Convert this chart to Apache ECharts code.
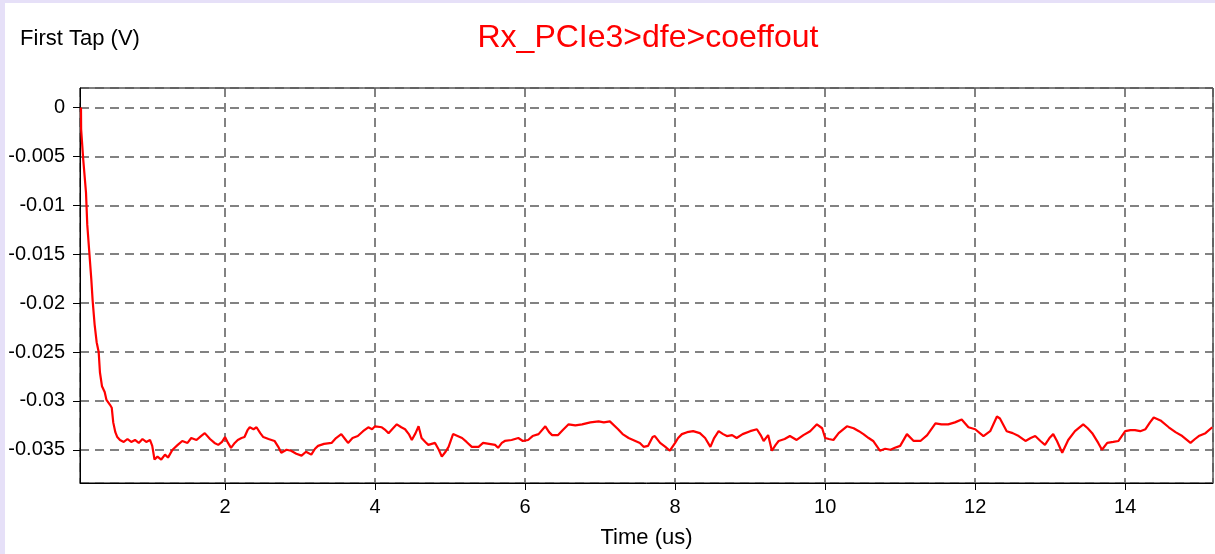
<!DOCTYPE html>
<html>
<head>
<meta charset="utf-8">
<script src="https://cdn.jsdelivr.net/npm/echarts@6/dist/echarts.min.js"></script>
<style>
html,body{margin:0;padding:0;width:1215px;height:554px;background:#E6E0F8;overflow:hidden;}
#chart{position:absolute;left:5px;top:3px;width:1210px;height:551px;background:#fff;}
</style>
</head>
<body>
<div id="chart"></div>
<script>
const titleText = "Rx_PCIe3>dfe>coeffout";
const yName = "First Tap (V)";
const xName = "Time (us)";
const timeUs = [0.08,0.082,0.11,0.147,0.164,0.19,0.218,0.236,0.262,0.289,0.316,0.333,0.36,0.396,0.42,0.467,0.49,0.51,0.538,0.564,0.6,0.65,0.7,0.75,0.8,0.85,0.9,0.95,1.0,1.03,1.06,1.1,1.15,1.2,1.24,1.3,1.37,1.43,1.5,1.55,1.62,1.68,1.73,1.8,1.86,1.91,1.96,2.0,2.04,2.08,2.13,2.17,2.22,2.26,2.3,2.33,2.38,2.42,2.47,2.51,2.58,2.66,2.71,2.75,2.82,2.88,2.95,3.02,3.08,3.15,3.2,3.24,3.32,3.42,3.48,3.55,3.6,3.64,3.7,3.77,3.84,3.91,3.96,4.0,4.09,4.14,4.18,4.24,4.29,4.35,4.4,4.45,4.49,4.54,4.58,4.62,4.67,4.71,4.8,4.85,4.89,4.94,4.98,5.04,5.1,5.16,5.22,5.29,5.38,5.44,5.52,5.6,5.64,5.69,5.73,5.82,5.91,5.97,6.04,6.1,6.18,6.27,6.32,6.36,6.44,6.5,6.58,6.67,6.76,6.87,6.98,7.05,7.13,7.24,7.3,7.38,7.47,7.53,7.58,7.64,7.7,7.73,7.8,7.87,7.93,8.0,8.04,8.09,8.16,8.24,8.33,8.4,8.47,8.52,8.58,8.64,8.69,8.76,8.82,8.9,9.0,9.09,9.14,9.18,9.24,9.29,9.34,9.38,9.46,9.53,9.62,9.71,9.8,9.89,9.96,10.0,10.05,10.11,10.18,10.29,10.38,10.45,10.51,10.58,10.64,10.73,10.8,10.87,10.93,11.0,11.09,11.18,11.27,11.36,11.47,11.55,11.64,11.73,11.82,11.91,12.0,12.11,12.2,12.29,12.33,12.42,12.5,12.58,12.67,12.74,12.8,12.87,12.93,12.99,13.04,13.09,13.16,13.24,13.33,13.44,13.5,13.56,13.64,13.69,13.76,13.84,13.91,14.0,14.07,14.13,14.2,14.27,14.33,14.38,14.47,14.58,14.67,14.76,14.87,14.93,14.98,15.07,15.16];
const firstTap = [0,-0.0022,-0.0053,-0.0087,-0.012,-0.0147,-0.0176,-0.0198,-0.0222,-0.024,-0.025,-0.0271,-0.0285,-0.0291,-0.0299,-0.0304,-0.0307,-0.0322,-0.0332,-0.0337,-0.0340,-0.0342,-0.0339,-0.0342,-0.0340,-0.0343,-0.0339,-0.0342,-0.0340,-0.0346,-0.0360,-0.0357,-0.0360,-0.0355,-0.0358,-0.0350,-0.0345,-0.0341,-0.0343,-0.0338,-0.0340,-0.0336,-0.0333,-0.0339,-0.0343,-0.0345,-0.0342,-0.0337,-0.0343,-0.0348,-0.0343,-0.0340,-0.0338,-0.0337,-0.0330,-0.0327,-0.0329,-0.0327,-0.0333,-0.0337,-0.0339,-0.0341,-0.0347,-0.0353,-0.0350,-0.0351,-0.0354,-0.0356,-0.0352,-0.0355,-0.0349,-0.0346,-0.0344,-0.0343,-0.0338,-0.0334,-0.0339,-0.0343,-0.0338,-0.0336,-0.0331,-0.0327,-0.0329,-0.0326,-0.0327,-0.0330,-0.0333,-0.0328,-0.0324,-0.0327,-0.0329,-0.0334,-0.0340,-0.0333,-0.0326,-0.0338,-0.0342,-0.0345,-0.0343,-0.0350,-0.0357,-0.0352,-0.0347,-0.0334,-0.0336,-0.0338,-0.0342,-0.0347,-0.0347,-0.0343,-0.0344,-0.0345,-0.0348,-0.0343,-0.0341,-0.0340,-0.0338,-0.0341,-0.0340,-0.0336,-0.0334,-0.0326,-0.0332,-0.0335,-0.0335,-0.0330,-0.0324,-0.0325,-0.0324,-0.0322,-0.0321,-0.0322,-0.0321,-0.0329,-0.0334,-0.0338,-0.0341,-0.0343,-0.0347,-0.0346,-0.0337,-0.0336,-0.0343,-0.0347,-0.0351,-0.0343,-0.0338,-0.0334,-0.0332,-0.0331,-0.0333,-0.0338,-0.0347,-0.0338,-0.0331,-0.0334,-0.0336,-0.0335,-0.0338,-0.0334,-0.0331,-0.0329,-0.0335,-0.0341,-0.0335,-0.0351,-0.0345,-0.0341,-0.0339,-0.0336,-0.0340,-0.0335,-0.0331,-0.0324,-0.0328,-0.0338,-0.0339,-0.0340,-0.0333,-0.0326,-0.0328,-0.0331,-0.0334,-0.0338,-0.0341,-0.0351,-0.0349,-0.0350,-0.0348,-0.0346,-0.0334,-0.0341,-0.0341,-0.0335,-0.0323,-0.0324,-0.0324,-0.0322,-0.0319,-0.0327,-0.0329,-0.0336,-0.0331,-0.0316,-0.0318,-0.0331,-0.0333,-0.0336,-0.0341,-0.0338,-0.0336,-0.0341,-0.0345,-0.0338,-0.0334,-0.0341,-0.0353,-0.0340,-0.0331,-0.0324,-0.0328,-0.0333,-0.0343,-0.0350,-0.0343,-0.0342,-0.0341,-0.0331,-0.0330,-0.0330,-0.0331,-0.0329,-0.0322,-0.0317,-0.0320,-0.0327,-0.0332,-0.0336,-0.0343,-0.0339,-0.0336,-0.0333,-0.0327];

const chart = echarts.init(document.getElementById('chart'), null, {renderer:'canvas'});
const fontFam = '"Liberation Sans", Arial, sans-serif';
const gridLine = {show:true, lineStyle:{color:'#5a5a5a', width:1.5, type:[9,6]}};
chart.setOption({
  animation:false,
  backgroundColor:'#fff',
  title:{text:titleText, left:638, textAlign:'center', top:14,
    textStyle:{color:'#ff0000', fontSize:32, fontWeight:'normal', fontFamily:fontFam}},
  grid:{left:75, top:85, right:2, bottom:71, show:true, borderColor:'#000', borderWidth:1, backgroundColor:'#fff'},
  xAxis:{type:'value', min:0.067, max:15.17, splitNumber:7,
    name:xName, nameLocation:'middle', nameGap:44,
    nameTextStyle:{color:'#000', fontSize:22, fontFamily:fontFam},
    axisLine:{show:true, onZero:false, lineStyle:{color:'#000', width:1}},
    axisTick:{show:true, length:7, inside:false, lineStyle:{color:'#000'}},
    axisLabel:{color:'#000', fontSize:20, fontFamily:fontFam, margin:14, showMinLabel:false, showMaxLabel:false},
    splitLine:gridLine},
  yAxis:{type:'value', min:-0.0384, max:0.002, splitNumber:8,
    name:yName, nameLocation:'end', nameGap:38,
    nameTextStyle:{color:'#000', fontSize:22, fontFamily:fontFam, align:'center'},
    axisLine:{show:true, lineStyle:{color:'#000', width:1}},
    axisTick:{show:true, length:7, lineStyle:{color:'#000'}},
    axisLabel:{color:'#000', fontSize:20, fontFamily:fontFam, margin:15, showMinLabel:false, showMaxLabel:false},
    splitLine:gridLine},
  series:[{type:'line', data:timeUs.map((t,i)=>[t, firstTap[i]]), showSymbol:false,
    lineStyle:{color:'#ff0000', width:2.2}, itemStyle:{color:'#ff0000'}, clip:true}]
});
</script>
</body>
</html>
